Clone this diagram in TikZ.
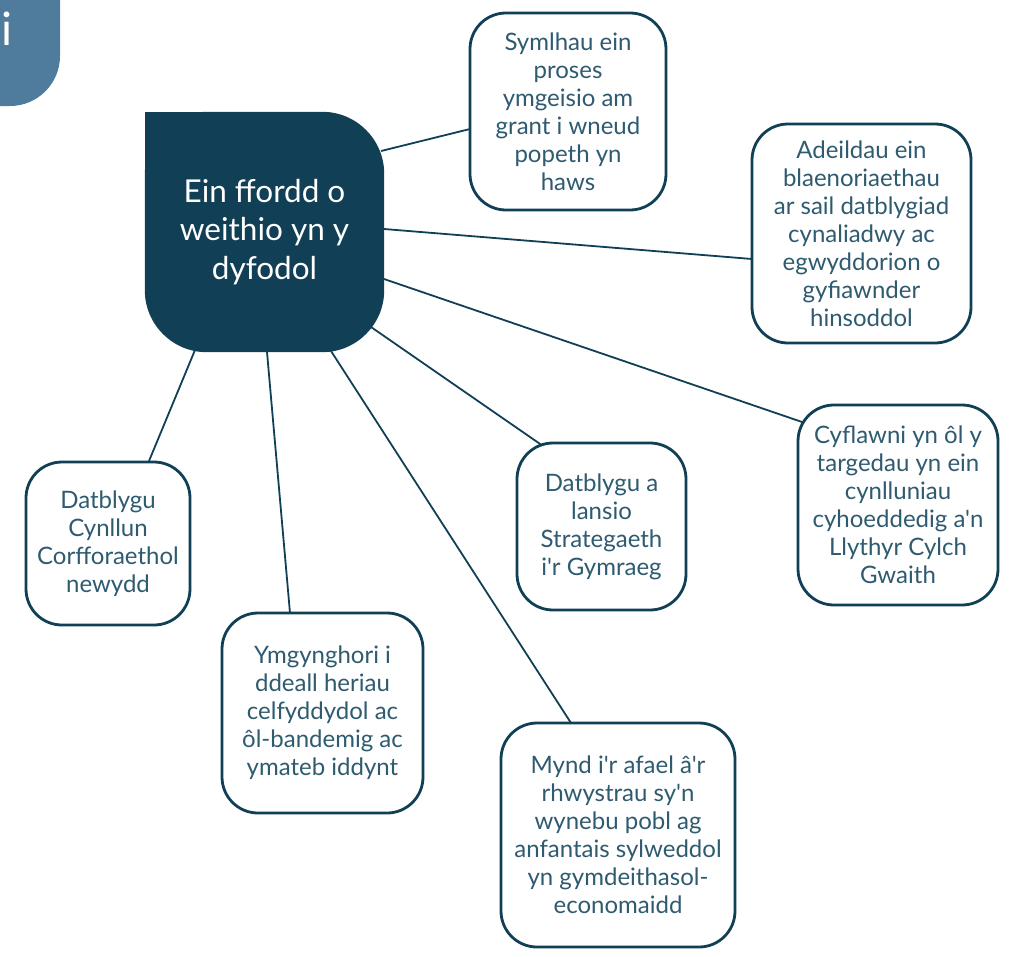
\documentclass[tikz,border=0pt]{standalone}
\usepackage{fontspec}
\setmainfont{Lato}[Ligatures=TeXOff]
\usetikzlibrary{positioning,backgrounds}
\definecolor{hubblue}{HTML}{113F55}
\definecolor{tabblue}{HTML}{4F7C9C}
\definecolor{leaftext}{HTML}{2F5B70}

\begin{document}
\begin{tikzpicture}[x=1pt, y=-1pt,
    hub/.style={rectangle, minimum width=239pt, minimum height=240pt, align=center, text=white, font=\fontsize{31.5}{38.5}\selectfont},
    leaf/.style={rectangle, draw=hubblue, line width=2.8pt, fill=white, rounded corners=36pt, align=center, text=leaftext, font=\fontsize{24}{28}\selectfont},
    link/.style={draw=hubblue, line width=1.8pt}
]
    \clip (0,0) rectangle (1016,956);

    % Tab in the corner
    \fill[tabblue, rounded corners=50pt] (-80,-80) rectangle (60,106);
    \node[anchor=base, inner sep=0pt, text=white, font=\fontsize{46}{46}\selectfont] (tabi) at (7,45) {i};

    % Nodes
    \node[hub] (hub) at (264.5,232) {Ein ffordd o\\weithio yn y\\dyfodol};

    \node[leaf, minimum width=196pt, minimum height=197pt] (simple) at (568,111.5) {Symlhau ein\\proses\\ymgeisio am\\grant i wneud\\popeth yn\\haws};
    \node[leaf, minimum width=219pt, minimum height=219pt] (priority) at (861.5,233.5) {Adeildau ein\\blaenoriaethau\\ar sail datblygiad\\cynaliadwy ac\\egwyddorion o\\gyfiawnder\\hinsoddol};
    \node[leaf, minimum width=200pt, minimum height=200pt] (targets) at (898,505) {Cyflawni yn ôl y\\targedau yn ein\\cynlluniau\\cyhoeddedig a'n\\Llythyr Cylch\\Gwaith};
    \node[leaf, minimum width=169pt, minimum height=167pt] (welsh) at (601.5,526.5) {Datblygu a\\lansio\\Strategaeth\\i'r Gymraeg};
    \node[leaf, minimum width=164pt, minimum height=163pt] (corpplan) at (108,543.5) {Datblygu\\Cynllun\\Corfforaethol\\newydd};
    \node[leaf, minimum width=201pt, minimum height=200pt] (consult) at (322.5,713) {Ymgynghori i\\ddeall heriau\\celfyddydol ac\\ôl-bandemig ac\\ymateb iddynt};
    \node[leaf, minimum width=234pt, minimum height=224pt] (barriers) at (618,835) {Mynd i'r afael â'r\\rhwystrau sy'n\\wynebu pobl ag\\anfantais sylweddol\\yn gymdeithasol-\\economaidd};

    \begin{scope}[on background layer]
        % Hub shape, square top left corner
        \fill[hubblue, rounded corners=62pt] (hub.north west) rectangle (hub.south east);
        \fill[hubblue] (hub.north west) rectangle (hub.center);

        % Lines
        \path[link] ([shift={(116.5,-81)}]hub.center) -- ([shift={(-98,17.5)}]simple.center);
        \path[link] ([shift={(119.5,-3)}]hub.center) -- ([shift={(-109.5,25.5)}]priority.center);
        \path[link] ([shift={(119.5,47)}]hub.center) -- ([shift={(-93,-82)}]targets.center);
        \path[link] ([shift={(106.5,95)}]hub.center) -- ([shift={(-58.5,-80.5)}]welsh.center);
        \path[link] ([shift={(66.5,119)}]hub.center) -- ([shift={(-47,-112)}]barriers.center);
        \path[link] ([shift={(2.5,120)}]hub.center) -- ([shift={(-32.5,-100)}]consult.center);
        \path[link] ([shift={(-69.5,118)}]hub.center) -- ([shift={(41,-82.5)}]corpplan.center);
    \end{scope}
\end{tikzpicture}
\end{document}
